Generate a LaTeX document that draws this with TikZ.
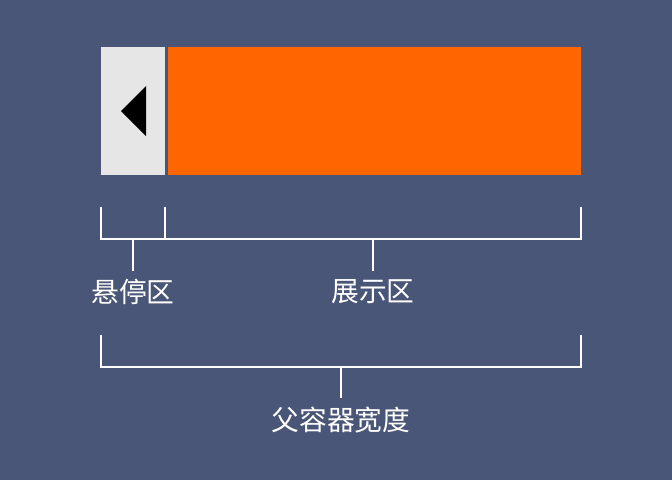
\documentclass[tikz,border=0pt]{standalone}
\usepackage{fontspec}
\newfontfamily\cjk{Noto Sans CJK SC}
\definecolor{bgc}{HTML}{4A5677}
\definecolor{orangec}{HTML}{FF6600}
\definecolor{grayc}{HTML}{E6E6E6}
\tikzset{
  bracketline/.style={draw=white, line width=1.8pt},
  labeltext/.style={text=white, font=\cjk\fontsize{20.8pt}{23pt}\selectfont, inner sep=0pt}
}
\begin{document}
\begin{tikzpicture}[x=0.75pt,y=-0.75pt]
\fill[bgc] (0,0) rectangle (672,480);
\useasboundingbox (0,0) rectangle (672,480);
% boxes
\fill[grayc] (101,47) rectangle (165,175);
\fill[orangec] (167.5,47) rectangle (581,175);
\fill[black] (121,111) -- (146,86) -- (146,136) -- cycle;
% bracket 1
\coordinate (a1) at (101,207);
\coordinate (a2) at (165,207);
\coordinate (a3) at (581,207);
\coordinate (s1) at (133,239);
\coordinate (s2) at (373,239);
\node[labeltext] (l1) at (133,292) {悬停区};
\node[labeltext] (l2) at (373,292) {展示区};
\draw[bracketline] (a1) -- (101,239) -- (581,239) -- (a3);
\draw[bracketline] (a2) -- (165,239);
\draw[bracketline] (s1) -- (133,271);
\draw[bracketline] (s2) -- (373,271);
% bracket 2
\coordinate (b1) at (101,335);
\coordinate (b2) at (581,335);
\coordinate (s3) at (341,367);
\node[labeltext] (l3) at (341,420) {父容器宽度};
\draw[bracketline] (b1) -- (101,367) -- (581,367) -- (b2);
\draw[bracketline] (s3) -- (341,398);
\end{tikzpicture}
\end{document}
